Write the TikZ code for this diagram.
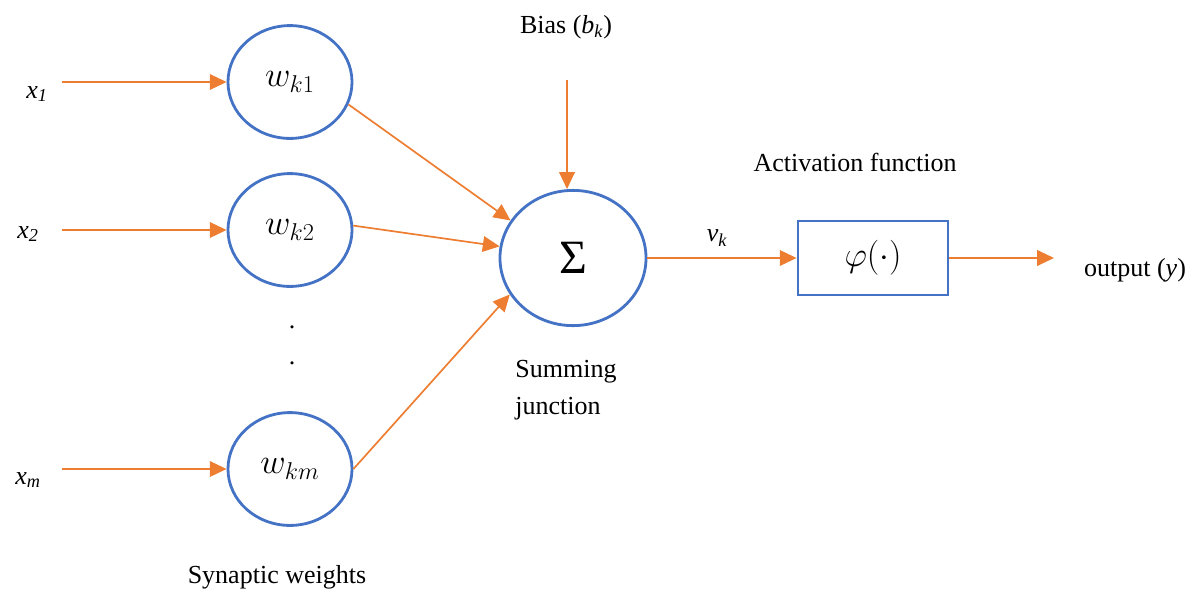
\documentclass[tikz,border=0pt]{standalone}
\usepackage{fontspec}
\setmainfont{Liberation Serif}
\usepackage{amsmath,amssymb}
\usetikzlibrary{arrows.meta,shapes.geometric,positioning}
\definecolor{wordblue}{RGB}{68,114,196}
\definecolor{wordorange}{RGB}{237,125,49}

\begin{document}
\begin{tikzpicture}[
  x=0.025cm, y=-0.025cm,
  font=\fontsize{18.5}{22}\selectfont,
  >={Triangle[length=4.2mm,width=3.9mm]},
  weight/.style={ellipse, draw=wordblue, line width=2pt, inner sep=0pt,
                 minimum width=3.1cm, minimum height=2.82cm},
  summer/.style={ellipse, draw=wordblue, line width=2pt, inner sep=0pt,
                 minimum width=3.65cm, minimum height=3.38cm},
  actbox/.style={rectangle, draw=wordblue, line width=2pt, inner sep=0pt,
                 minimum width=3.75cm, minimum height=1.85cm},
  flow/.style={->, draw=wordorange, line width=1.2pt},
  lbl/.style={inner sep=1pt},
]
\useasboundingbox (0,0) rectangle (1196,593);
% Inputs
\node[lbl] (x1) at (37,94) {\itshape x\textsubscript{1}};
\node[lbl] (x2) at (28,234) {\itshape x\textsubscript{2}};
\node[lbl] (xm) at (28,480) {\itshape x\textsubscript{m}};
\coordinate (in1) at (62,82);
\coordinate (in2) at (62,230);
\coordinate (inm) at (62,469);
% Synaptic weights
\node[weight] (wk1) at (290,82) {\fontsize{24}{28}\selectfont$w_{k1}$};
\node[weight] (wk2) at (290,230) {\fontsize{24}{28}\selectfont$w_{k2}$};
\node[weight] (wkm) at (290,469) {\fontsize{24}{28}\selectfont$w_{km}$};
\node[lbl] (dot1) at (292,327) {.};
\node[lbl] (dot2) at (292,363) {.};
\node[lbl] (synlbl) at (277,577) {Synaptic weights};
% Summing junction
\node[summer] (sum) at (573,258) {\fontsize{34}{38}\selectfont Σ};
\node[lbl] (bias) at (566,27) {Bias (\textit{b\textsubscript{k}})};
\coordinate (biasin) at (567,80);
\node[lbl, align=left] (sumlbl) at (566,390) {Summing\\[4pt]junction};
% Activation function
\node[actbox] (phi) at (873,258) {\fontsize{24}{28}\selectfont$\varphi(\cdot)$};
\node[lbl] (actlbl) at (855,162) {Activation function};
\node[lbl] (vk) at (717,238) {\textit{v\textsubscript{k}}};
\coordinate (out) at (1054,258);
\node[lbl] (outlbl) at (1135,270) {output (\textit{y})};
% edges
\draw[flow] (in1) -- (wk1.west);
\draw[flow] (in2) -- (wk2.west);
\draw[flow] (inm) -- (wkm.west);
\draw[flow] (wk1.-21) -- (sum.149);
\draw[flow] (wk2.4) -- (sum.171);
\draw[flow] (wkm.east) -- (sum.210);
\draw[flow] (biasin) -- (biasin |- sum.north);
\draw[flow] (sum.east) -- (phi.west);
\draw[flow] (phi.east) -- (out);
\end{tikzpicture}
\end{document}
